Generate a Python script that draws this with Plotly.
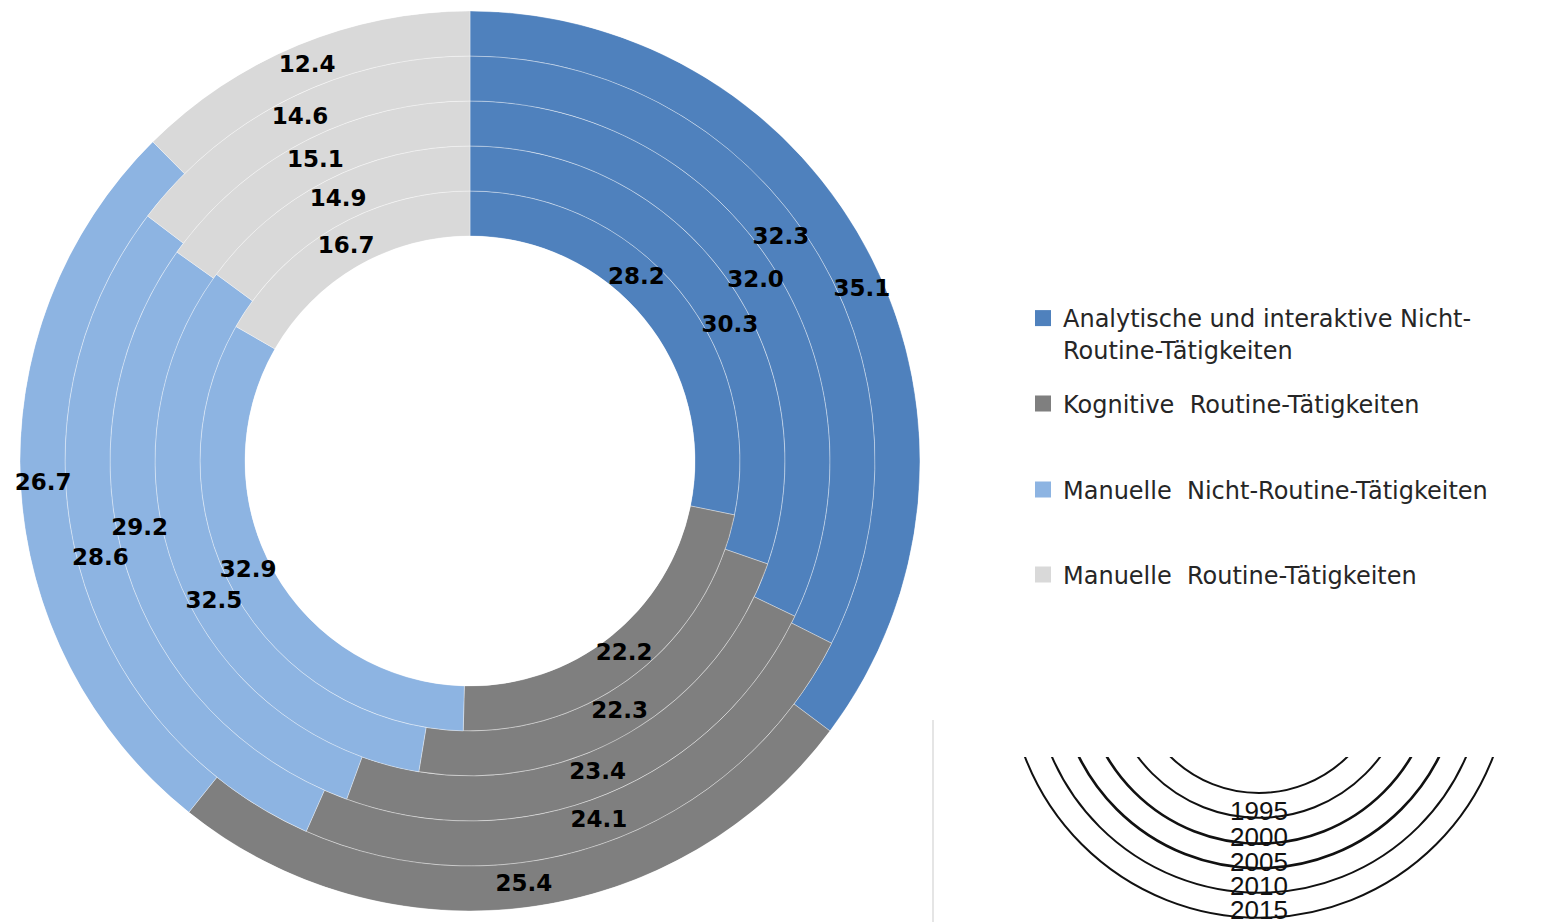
import numpy as np
import plotly.graph_objects as go

# ---------------- data ----------------
years = ["1995", "2000", "2005", "2010", "2015"]          # inner ring -> outer ring
categories = [
    "Analytische und interaktive Nicht-<br>Routine-Tätigkeiten",
    "Kognitive  Routine-Tätigkeiten",
    "Manuelle  Nicht-Routine-Tätigkeiten",
    "Manuelle  Routine-Tätigkeiten",
]
analytisch_nicht_routine = [28.2, 30.3, 32.0, 32.3, 35.1]
kognitiv_routine = [22.2, 22.3, 23.4, 24.1, 25.4]
manuell_nicht_routine = [32.9, 32.5, 29.2, 28.6, 26.7]
manuell_routine = [16.7, 14.9, 15.1, 14.6, 12.4]

# ---------------- style ----------------
colors = ["#4F81BD", "#7F7F7F", "#8DB4E2", "#D9D9D9"]
W, H = 1548, 922
CX, CY, R_OUT = 470, 461, 450          # donut centre / outer radius (px)
LABEL_FONT = dict(family="DejaVu Sans", size=23, color="#000000", weight="bold")
LEGEND_FONT = dict(family="DejaVu Sans", size=24, color="#262626")
legend_ids = ["legend", "legend2", "legend3", "legend4"]
legend_y_px = [334, 404, 490, 575]
LEGEND_X_PX = 1023
# small angular nudges (degrees) of the value labels, as placed in the original
LABEL_NUDGE_DEG = [
    [-8.5, 8.1, 0.0, -4.0, 3.0],
    [0.0, 0.0, 0.0, 0.0, 0.0],
    [3.0, -6.7, 5.5, -0.5, 0.0],
    [0.0, 0.0, 0.0, 0.0, 0.0],
]

series = np.array([analytisch_nicht_routine, kognitiv_routine,
                   manuell_nicht_routine, manuell_routine])
totals = series.sum(axis=0)
frac = series / totals
start = np.vstack([np.zeros(len(years)), np.cumsum(frac, axis=0)[:-1]])
span_deg = frac * 360.0
mid_deg = (start + frac / 2.0) * 360.0
ring = np.arange(len(years))

fig = go.Figure()

# rings (one bar per year and category)
for i, name in enumerate(categories):
    fig.add_trace(go.Barpolar(
        r=np.ones(len(years)), base=ring, theta=mid_deg[i], width=span_deg[i],
        marker=dict(color=colors[i], line=dict(color="rgba(255,255,255,0.35)", width=1)),
        name=name, showlegend=False, hoverinfo="skip",
    ))

# value labels
for i in range(len(categories)):
    fig.add_trace(go.Scatterpolar(
        r=ring + 0.5, theta=mid_deg[i] + np.array(LABEL_NUDGE_DEG[i]), mode="text",
        text=[f"{v:.1f}" for v in series[i]], textfont=LABEL_FONT,
        showlegend=False, hoverinfo="skip",
    ))

# legend entries (square markers), one legend per entry for the original spacing
for i, name in enumerate(categories):
    fig.add_trace(go.Scatter(
        x=[None], y=[None], mode="markers", name=name, legend=legend_ids[i],
        marker=dict(symbol="square", size=16, color=colors[i]),
        hoverinfo="skip",
    ))

# helper cartesian subplot for the year key (1 unit = 1 px)
KEY_X0, KEY_Y0 = 990, 757
KEY_CX, KEY_CY = 1259, 667
KEY_RADII = [126, 150.8, 176.6, 201.2, 225.7, 250.7]
KEY_WIDTHS = [2, 2, 2.6, 2.6, 2, 2]
KEY_LABEL_Y = [811, 837, 862, 886, 910]

shapes = []
for rad, lw in zip(KEY_RADII, KEY_WIDTHS):
    shapes.append(dict(type="circle", xref="x", yref="y",
                       x0=KEY_CX - rad, x1=KEY_CX + rad, y0=KEY_CY - rad, y1=KEY_CY + rad,
                       line=dict(color="#111111", width=lw), fillcolor="rgba(0,0,0,0)"))
shapes.append(dict(type="line", xref="paper", yref="paper",
                   x0=933 / W, x1=933 / W, y0=0, y1=1 - 720 / H,
                   line=dict(color="#DDDDDD", width=1.5)))

annotations = [dict(text=y, x=KEY_CX, y=yy, xref="x", yref="y", showarrow=False,
                    font=dict(family="Liberation Sans", size=26, color="#111111"),
                    xanchor="center", yanchor="middle")
               for y, yy in zip(years, KEY_LABEL_Y)]

layout_legends = {}
for lid, ypx in zip(legend_ids, legend_y_px):
    layout_legends[lid] = dict(x=LEGEND_X_PX / W, y=1 - ypx / H, xanchor="left", yanchor="middle",
                               valign="top", font=LEGEND_FONT, bgcolor="rgba(0,0,0,0)",
                               borderwidth=0, itemclick=False, itemdoubleclick=False)

fig.update_layout(
    width=W, height=H, margin=dict(l=0, r=0, t=0, b=0),
    paper_bgcolor="white", plot_bgcolor="rgba(0,0,0,0)",
    polar=dict(
        domain=dict(x=[(CX - R_OUT) / W, (CX + R_OUT) / W],
                    y=[1 - (CY + R_OUT) / H, 1 - (CY - R_OUT) / H]),
        hole=0.5, bargap=0, bgcolor="rgba(0,0,0,0)",
        radialaxis=dict(range=[0, len(years)], visible=False),
        angularaxis=dict(visible=False, rotation=90, direction="clockwise", thetaunit="degrees"),
    ),
    xaxis=dict(domain=[KEY_X0 / W, 1], range=[KEY_X0, W], visible=False, fixedrange=True),
    yaxis=dict(domain=[0, (H - KEY_Y0) / H], range=[H, KEY_Y0], visible=False, fixedrange=True),
    shapes=shapes, annotations=annotations,
    **layout_legends,
)

fig.write_html("out.html")
